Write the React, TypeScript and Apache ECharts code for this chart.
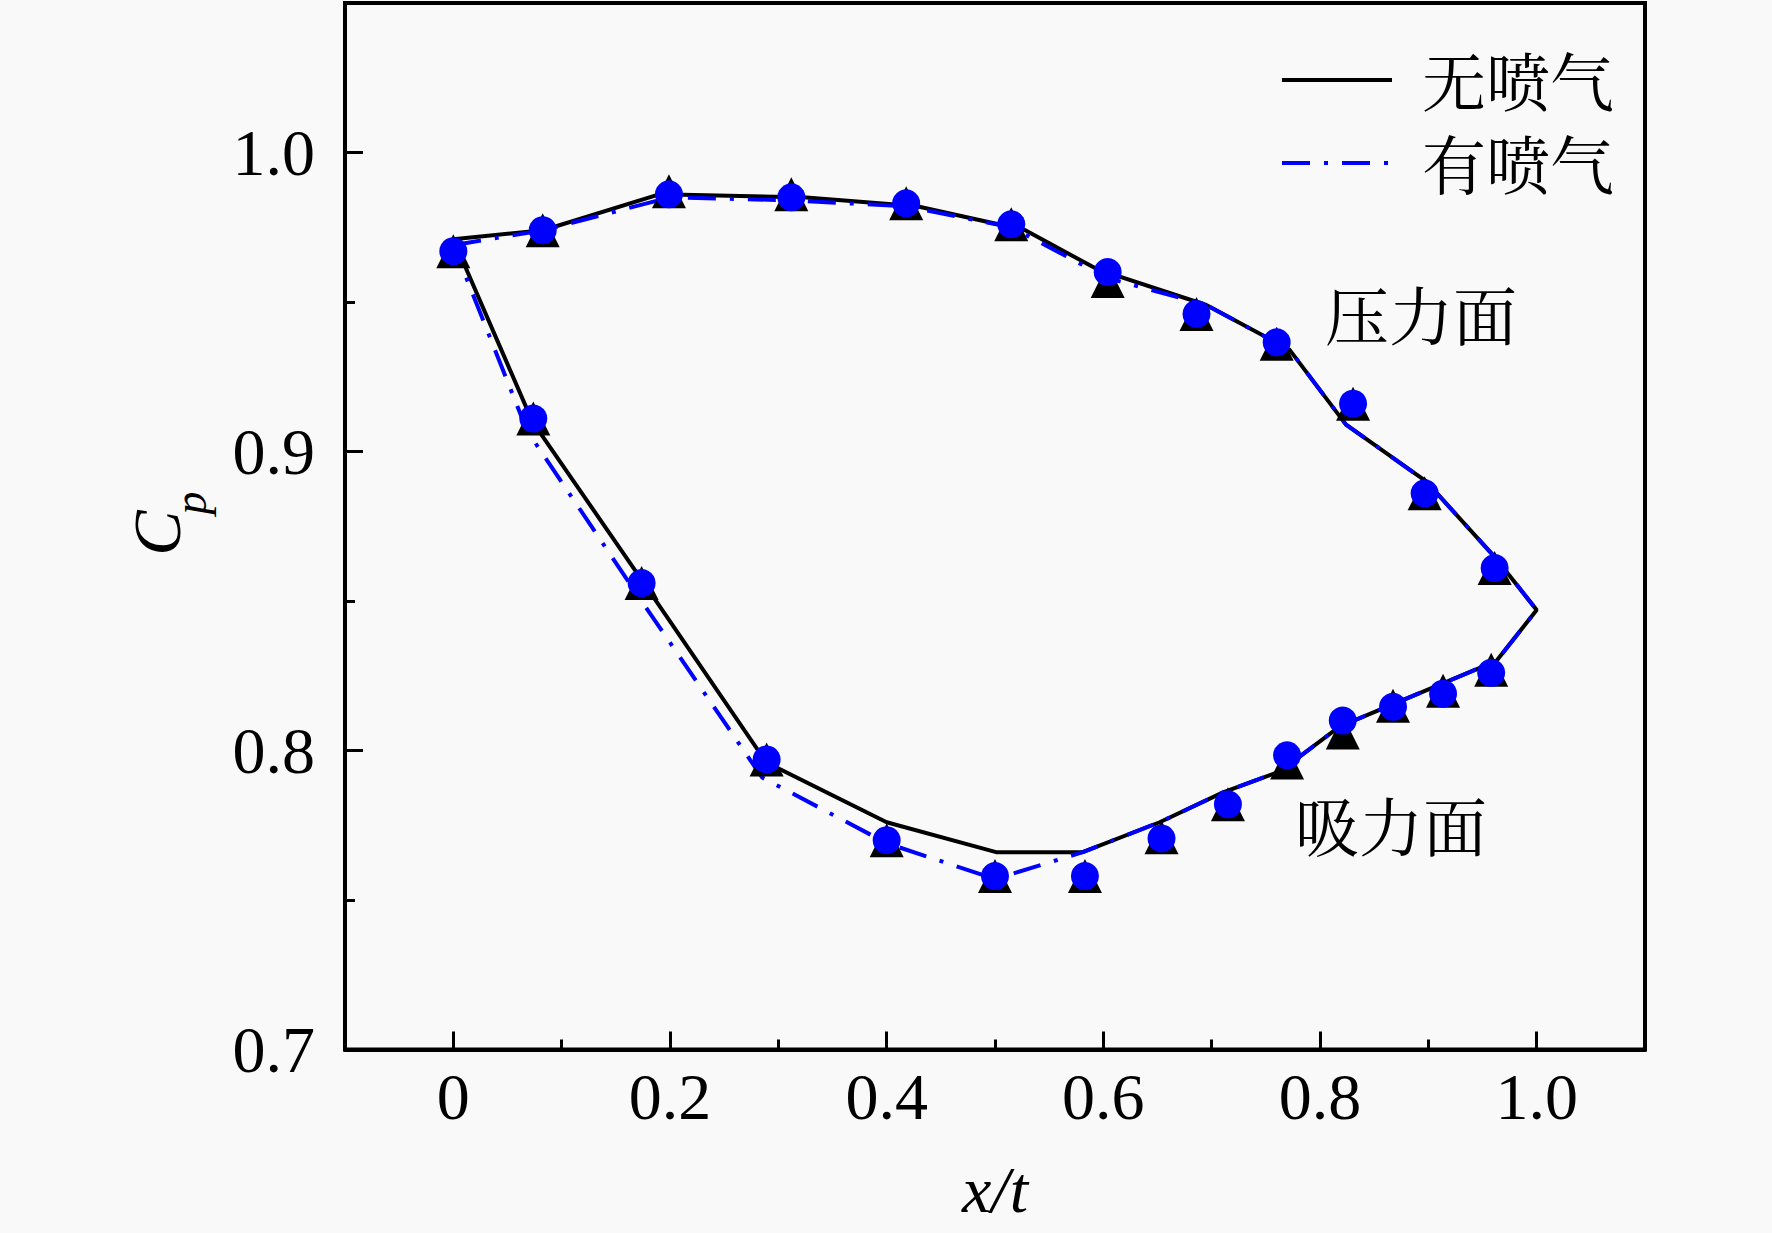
import React, { useEffect, useRef } from "react";
import * as echarts from "echarts";

// ---- axis ticks ----
const xMajorTicks = [0, 0.2, 0.4, 0.6, 0.8, 1.0];
const xMinorTicks = [0.1, 0.3, 0.5, 0.7, 0.9];
const yMajorTicks = [0.7, 0.8, 0.9, 1.0];
const yMinorTicks = [0.75, 0.85, 0.95];

// ---- texts ----
const legendNames = ["无喷气", "有喷气"];
const surfaceLabels = ["压力面", "吸力面"];
const xTitle = "x/t";
const yTitleMain = "C";
const yTitleSub = "p";

// ---- series: lines (x/t, Cp) ----
const noJetLine = [
  [0, 0.971], [0.083, 0.974], [0.19, 0.986], [0.323, 0.985], [0.428, 0.982],
  [0.528, 0.974], [0.594, 0.961], [0.695, 0.949], [0.772, 0.934], [0.824, 0.909],
  [0.898, 0.89], [0.963, 0.864], [1.0, 0.847], [0.963, 0.83], [0.818, 0.808],
  [0.763, 0.793], [0.7105, 0.786], [0.652, 0.776], [0.581, 0.766], [0.501, 0.766],
  [0.4, 0.776], [0.289, 0.796], [0.174, 0.857], [0.073, 0.91], [0, 0.971],
];
const jetLine = [
  [0, 0.969], [0.083, 0.974], [0.2, 0.985], [0.312, 0.984], [0.418, 0.982],
  [0.515, 0.975], [0.604, 0.958], [0.695, 0.949], [0.772, 0.934], [0.824, 0.909],
  [0.898, 0.89], [0.963, 0.864], [1.0, 0.847], [0.963, 0.83], [0.818, 0.808],
  [0.763, 0.793], [0.7105, 0.786], [0.652, 0.776], [0.581, 0.766], [0.5, 0.757],
  [0.4, 0.769], [0.285, 0.791], [0.17, 0.852], [0.068, 0.907], [0, 0.969],
];

// ---- series: markers ----
const noJetPoints = [
  [0, 0.967], [0.0825, 0.974], [0.199, 0.987], [0.312, 0.986], [0.418, 0.983],
  [0.515, 0.976], [0.604, 0.957], [0.686, 0.946], [0.76, 0.936], [0.8305, 0.916],
  [0.8966, 0.886], [0.9612, 0.861], [0.958, 0.827], [0.9136, 0.82], [0.8674, 0.815],
  [0.821, 0.806], [0.7696, 0.796], [0.715, 0.782], [0.6537, 0.771], [0.583, 0.758],
  [0.5, 0.758], [0.4, 0.77], [0.2892, 0.797], [0.1738, 0.856], [0.0738, 0.911],
];
const jetPoints = [
  [0, 0.967], [0.0825, 0.974], [0.199, 0.986], [0.312, 0.985], [0.418, 0.983],
  [0.515, 0.976], [0.604, 0.96], [0.686, 0.946], [0.76, 0.9365], [0.8305, 0.916],
  [0.8966, 0.886], [0.9612, 0.861], [0.958, 0.826], [0.9136, 0.819], [0.8674, 0.8146],
  [0.821, 0.81], [0.7696, 0.7984], [0.715, 0.782], [0.6537, 0.7706], [0.583, 0.758],
  [0.5, 0.758], [0.4, 0.77], [0.2892, 0.797], [0.1738, 0.856], [0.0738, 0.911],
];

const SERIF = '"Liberation Serif", "Times New Roman", serif';
const CJK = '"Noto Serif CJK SC", "Noto Sans CJK SC", sans-serif';
const BLUE = "#0000ff";
const DASHDOT = [28, 14, 4, 14];

export default function App() {
  const ref = useRef<HTMLDivElement>(null);

  useEffect(() => {
    const chart = echarts.init(ref.current as HTMLDivElement, null, { renderer: "svg" });

    const tickLabelStyle = {
      fontSize: 66,
      fontFamily: SERIF,
      color: "#000",
    };

    const option: any = {
      animation: false,
      backgroundColor: "#f9f9f9",
      grid: {
        left: 345,
        top: 3,
        width: 1300,
        height: 1046.5,
        show: true,
        borderColor: "#000",
        borderWidth: 4,
        backgroundColor: "transparent",
        containLabel: false,
        outerBoundsMode: "none",
      },
      xAxis: [
        {
          type: "value",
          min: -0.1,
          max: 1.1,
          position: "bottom",
          splitLine: { show: false },
          axisLine: { show: true, onZero: false, lineStyle: { color: "#000", width: 4 } },
          axisTick: {
            show: true,
            inside: true,
            length: 18,
            customValues: xMajorTicks,
            lineStyle: { color: "#000", width: 3 },
          },
          axisLabel: {
            ...tickLabelStyle,
            margin: 14,
            customValues: xMajorTicks,
            formatter: (v: number) => (v === 0 ? "0" : v.toFixed(1)),
          },
        },
        {
          type: "value",
          min: -0.1,
          max: 1.1,
          position: "bottom",
          splitLine: { show: false },
          axisLine: { show: false, onZero: false },
          axisTick: {
            show: true,
            inside: true,
            length: 10,
            customValues: xMinorTicks,
            lineStyle: { color: "#000", width: 3 },
          },
          axisLabel: { show: false },
        },
      ],
      yAxis: [
        {
          type: "value",
          min: 0.7,
          max: 1.05,
          position: "left",
          splitLine: { show: false },
          axisLine: { show: true, onZero: false, lineStyle: { color: "#000", width: 4 } },
          axisTick: {
            show: true,
            inside: true,
            length: 18,
            customValues: yMajorTicks,
            lineStyle: { color: "#000", width: 3 },
          },
          axisLabel: {
            ...tickLabelStyle,
            margin: 30,
            customValues: yMajorTicks,
            formatter: (v: number) => v.toFixed(1),
          },
        },
        {
          type: "value",
          min: 0.7,
          max: 1.05,
          position: "left",
          splitLine: { show: false },
          axisLine: { show: false, onZero: false },
          axisTick: {
            show: true,
            inside: true,
            length: 10,
            customValues: yMinorTicks,
            lineStyle: { color: "#000", width: 3 },
          },
          axisLabel: { show: false },
        },
      ],
      series: [
        {
          name: legendNames[0],
          type: "line",
          data: noJetLine,
          symbol: "none",
          lineStyle: { color: "#000", width: 4 },
          z: 2,
        },
        {
          name: legendNames[1],
          type: "line",
          data: jetLine,
          symbol: "none",
          lineStyle: { color: BLUE, width: 4, type: DASHDOT },
          z: 3,
        },
        {
          name: legendNames[0] + "-pts",
          type: "scatter",
          data: noJetPoints,
          symbol: "triangle",
          symbolSize: [34, 34],
          itemStyle: { color: "#000", opacity: 1 },
          z: 4,
        },
        {
          name: legendNames[1] + "-pts",
          type: "scatter",
          data: jetPoints,
          symbol: "circle",
          symbolSize: 28,
          itemStyle: { color: BLUE, opacity: 1 },
          z: 5,
        },
      ],
      graphic: [
        // legend
        {
          type: "line",
          shape: { x1: 1282, y1: 80, x2: 1392, y2: 80 },
          style: { stroke: "#000", lineWidth: 4 },
        },
        {
          type: "text",
          x: 1422,
          y: 78,
          style: {
            text: legendNames[0],
            fill: "#000",
            font: `64px ${CJK}`,
            align: "left",
            verticalAlign: "middle",
          },
        },
        {
          type: "line",
          shape: { x1: 1282, y1: 163, x2: 1392, y2: 163 },
          style: { stroke: BLUE, lineWidth: 4, lineDash: DASHDOT },
        },
        {
          type: "text",
          x: 1422,
          y: 161,
          style: {
            text: legendNames[1],
            fill: "#000",
            font: `64px ${CJK}`,
            align: "left",
            verticalAlign: "middle",
          },
        },
        // surface annotations
        {
          type: "text",
          x: 1421,
          y: 312,
          style: {
            text: surfaceLabels[0],
            fill: "#000",
            font: `64px ${CJK}`,
            align: "center",
            verticalAlign: "middle",
          },
        },
        {
          type: "text",
          x: 1391,
          y: 823,
          style: {
            text: surfaceLabels[1],
            fill: "#000",
            font: `64px ${CJK}`,
            align: "center",
            verticalAlign: "middle",
          },
        },
        // axis titles
        {
          type: "text",
          x: 995,
          y: 1189,
          style: {
            text: xTitle,
            fill: "#000",
            font: `italic 66px ${SERIF}`,
            align: "center",
            verticalAlign: "middle",
          },
        },
        {
          type: "text",
          x: 157,
          y: 533,
          rotation: Math.PI / 2,
          style: {
            text: yTitleMain,
            fill: "#000",
            font: `italic 68px ${SERIF}`,
            align: "center",
            verticalAlign: "middle",
          },
        },
        {
          type: "text",
          x: 190,
          y: 503,
          rotation: Math.PI / 2,
          style: {
            text: yTitleSub,
            fill: "#000",
            font: `italic 46px ${SERIF}`,
            align: "center",
            verticalAlign: "middle",
          },
        },
      ],
    };

    chart.setOption(option);
    return () => {
      chart.dispose();
    };
  }, []);

  return (
    <div
      ref={ref}
      style={{ position: "absolute", left: 0, top: 0, width: 1772, height: 1233 }}
    />
  );
}
